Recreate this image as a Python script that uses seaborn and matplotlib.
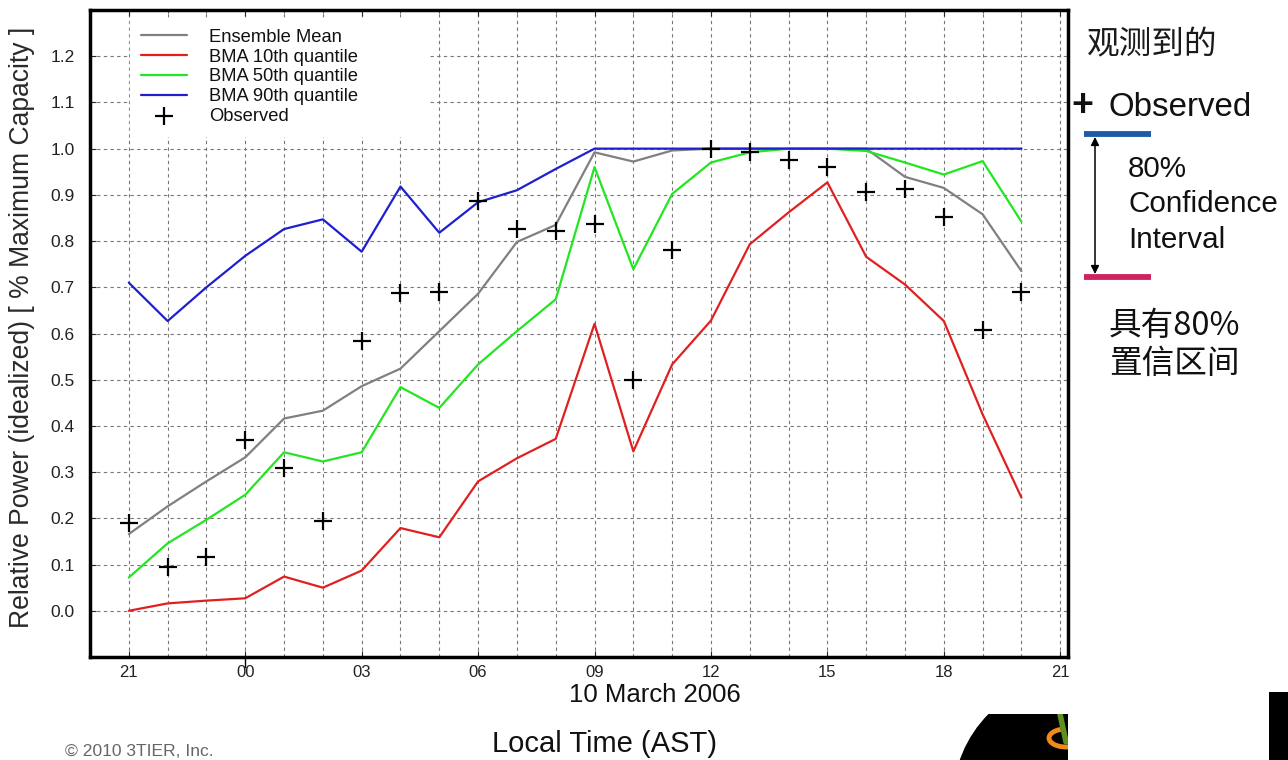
import numpy as np
import pandas as pd
import matplotlib
matplotlib.use("Agg")
import matplotlib.pyplot as plt
import seaborn as sns
from matplotlib.lines import Line2D
from matplotlib.patches import Ellipse, Rectangle, Arc

# ---------------- data ----------------
hours = list(range(24))  # hour offset from 21 AST (9 March) to 20 AST (10 March)
tick_positions = [0, 3, 6, 9, 12, 15, 18, 21, 24]
tick_labels = ["21", "00", "03", "06", "09", "12", "15", "18", "21"]

ensemble_mean = [0.166, 0.226, 0.280, 0.332, 0.416, 0.433, 0.486, 0.524, 0.605, 0.686,
                 0.798, 0.835, 0.992, 0.972, 0.996, 1.000, 1.000, 1.000, 1.000, 1.000,
                 0.939, 0.915, 0.858, 0.735]
bma_q10 = [0.000, 0.016, 0.022, 0.027, 0.074, 0.050, 0.087, 0.179, 0.159, 0.280,
           0.330, 0.372, 0.621, 0.345, 0.533, 0.628, 0.793, 0.862, 0.927, 0.766,
           0.706, 0.627, 0.425, 0.245]
bma_q50 = [0.072, 0.146, 0.197, 0.251, 0.343, 0.323, 0.343, 0.484, 0.439, 0.533,
           0.605, 0.674, 0.960, 0.739, 0.902, 0.970, 0.992, 1.000, 1.000, 0.995,
           0.970, 0.944, 0.973, 0.842]
bma_q90 = [0.710, 0.627, 0.700, 0.768, 0.826, 0.847, 0.777, 0.918, 0.818, 0.884,
           0.910, 0.956, 1.000, 1.000, 1.000, 1.000, 1.000, 1.000, 1.000, 1.000,
           1.000, 1.000, 1.000, 1.000]
observed = [0.190, 0.095, 0.116, 0.370, 0.309, 0.195, 0.583, 0.688, 0.690, 0.887,
            0.827, 0.822, 0.838, 0.500, 0.780, 0.999, 0.992, 0.975, 0.961, 0.907,
            0.912, 0.852, 0.607, 0.690]

series_names = ["Ensemble Mean", "BMA 10th quantile", "BMA 50th quantile", "BMA 90th quantile"]
series_values = [ensemble_mean, bma_q10, bma_q50, bma_q90]
series_colors = ["#808080", "#e02020", "#22e622", "#1f1fd0"]

long_df = pd.DataFrame({
    "hour": np.tile(hours, len(series_names)),
    "value": np.concatenate(series_values),
    "series": np.repeat(series_names, len(hours)),
})
obs_df = pd.DataFrame({"hour": hours, "value": observed})

# ---------------- figure ----------------
sns.set_style("white")
plt.rcParams["font.family"] = ["Liberation Sans", "DejaVu Sans"]

W, H = 1288, 760
fig = plt.figure(figsize=(W / 100, H / 100), dpi=100)
fig.patch.set_facecolor("white")

def fx(px):
    return px / W

def fy(py):
    return 1 - py / H

ax = fig.add_axes([fx(90), fy(657), fx(1068) - fx(90), fy(10) - fy(657)])

sns.lineplot(data=long_df, x="hour", y="value", hue="series", hue_order=series_names,
             palette=series_colors, linewidth=1.6, legend=False, ax=ax, zorder=3)
sns.scatterplot(data=obs_df, x="hour", y="value", marker="+", color="black",
                s=150, linewidth=1.6, legend=False, ax=ax, zorder=5)

ax.set_xlim(-1, 24.2)
ax.set_ylim(-0.1, 1.3)
ax.set_xticks(tick_positions)
ax.set_xticklabels(tick_labels, fontsize=12, color="#222222")
ax.set_xticks(hours + [24], minor=True)
yt = np.round(np.arange(0, 1.21, 0.1), 1)
ax.set_yticks(yt)
ax.set_yticklabels([f"{v:.1f}" for v in yt], fontsize=12.5, color="#222222")
ax.set_yticks(np.round(np.arange(-0.1, 1.31, 0.1), 1), minor=True)
ax.set_xlabel("")
ax.set_ylabel("")

ax.grid(True, which="both", color="#777777", linestyle=(0, (3, 3)), linewidth=0.8)
ax.tick_params(axis="x", which="major", direction="in", length=4, pad=6, top=True, bottom=True)
ax.tick_params(axis="x", which="minor", direction="in", length=2, top=True)
ax.tick_params(axis="y", which="major", direction="in", length=4, pad=11, left=True)
ax.tick_params(axis="y", which="minor", length=0)
for sp in ax.spines.values():
    sp.set_linewidth(2.5)
    sp.set_color("black")
# day-boundary tick below the axis at 00
ax.axvline(3, ymin=-0.016, ymax=0, clip_on=False, color="black", linewidth=1)

handles = ax.lines[:4] + [ax.collections[-1]]
leg = ax.legend(handles=handles, labels=series_names + ["Observed"],
                loc="upper left", bbox_to_anchor=(0.041, 0.988, 0.305, 0.0), mode="expand",
                fontsize=13.2, frameon=True, fancybox=False, framealpha=1,
                facecolor="white", edgecolor="white", borderpad=0.6,
                labelspacing=0.15, handlelength=2.5, handletextpad=1.2,
                borderaxespad=0)
for t in leg.get_texts():
    t.set_color("#111111")
leg.set_zorder(10)

# ---------------- axis texts ----------------
fig.text(fx(22), fy(327), "Relative Power (idealized) [ % Maximum Capacity ]",
         rotation=90, ha="center", va="center", fontsize=19.1, color="#2a2a2a")
fig.text(fx(655), fy(695), "10 March 2006", ha="center", va="center", fontsize=18.5,
         color="#111111")
fig.text(fx(605), fy(744), "Local Time (AST)", ha="center", va="center", fontsize=21,
         color="#111111")
fig.text(fx(65), fy(752), "\u00a9 2010 3TIER, Inc.", ha="left", va="center", fontsize=12.6,
         color="#666666")

# ---------------- right-side annotation ----------------
cjk = ["Noto Sans CJK SC", "Liberation Sans", "DejaVu Sans"]
fig.text(fx(1087), fy(45), "观测到的", ha="left", va="center", fontsize=23.5, family=cjk,
         color="#1a1a1a")
fig.text(fx(1071), fy(106), "+", ha="left", va="center", fontsize=27, weight="bold",
         color="#111111")
fig.text(fx(1109), fy(107), "Observed", ha="left", va="center", fontsize=23.8, color="#111111")
fig.add_artist(Line2D([fx(1084), fx(1151)], [fy(134), fy(134)], transform=fig.transFigure,
                      color="#1f5aa6", linewidth=4.2, solid_capstyle="butt"))
fig.add_artist(Line2D([fx(1084), fx(1151)], [fy(277), fy(277)], transform=fig.transFigure,
                      color="#cf2261", linewidth=4.2, solid_capstyle="butt"))
ax.annotate("", xy=(fx(1095), fy(274)), xytext=(fx(1095), fy(137)),
            xycoords="figure fraction", textcoords="figure fraction",
            arrowprops=dict(arrowstyle="<|-|>", color="black", lw=1.1,
                            mutation_scale=12, shrinkA=0, shrinkB=0),
            annotation_clip=False)
fig.text(fx(1128), fy(155), "80%\nConfidence\nInterval", ha="left", va="top", fontsize=21.3,
         linespacing=1.33, color="#111111")
fig.text(fx(1109), fy(345), "具有80%\n置信区间", ha="left", va="center", fontsize=23.5,
         family=cjk, linespacing=1.2, color="#111111")

# ---------------- decorative logo shapes ----------------
clip = Rectangle((fx(900), 0), fx(1068) - fx(900), fy(714), transform=fig.transFigure)
logo = Ellipse((fx(1075), fy(800)), 2 * 122 / W, 2 * 122 / H, transform=fig.transFigure,
               facecolor="black", edgecolor="none")
fig.add_artist(logo)
logo.set_clip_path(clip)
arc = Arc((fx(1066), fy(738)), 34 / W, 18 / H, theta1=110, theta2=300,
          transform=fig.transFigure, color="#f08a1c", linewidth=3.5)
fig.add_artist(arc)
arc.set_clip_path(clip)
green = Line2D([fx(1060), fx(1066)], [fy(714), fy(742)], transform=fig.transFigure,
               color="#5f8f1f", linewidth=4)
fig.add_artist(green)
green.set_clip_path(clip)
fig.add_artist(Rectangle((fx(1269), 0), fx(1288) - fx(1269), fy(692), transform=fig.transFigure,
                         facecolor="black", edgecolor="none"))

fig.savefig("out.png", dpi=100, facecolor="white")
